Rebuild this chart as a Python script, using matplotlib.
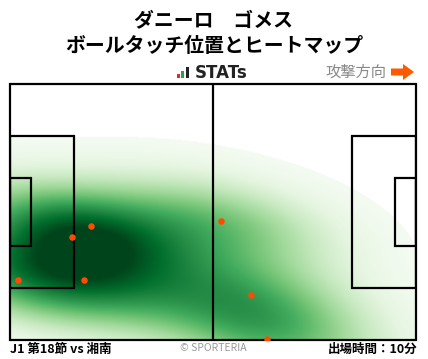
import numpy as np
import matplotlib
matplotlib.use("Agg")
import matplotlib.pyplot as plt
from matplotlib.patches import Rectangle, Polygon

plt.rcParams['font.family'] = ['Noto Sans CJK JP', 'DejaVu Sans']

# ---- data (pitch coords in metres: x 0..105 attack left->right, y 0..68 from top) ----
touch_x = [20.9, 16.0, 2.1, 19.1, 54.6, 62.3, 66.5]
touch_y = [37.7, 40.6, 52.1, 52.1, 36.4, 56.0, 67.7]

title_lines = ["ダニーロ\u3000ゴメス", "ボールタッチ位置とヒートマップ"]
match_label = "J1 第18節 vs 湘南"
minutes_label = "出場時間：10分"
direction_label = "攻撃方向"

L, W = 105.0, 68.0

W_PX, H_PX = 428, 359
fig = plt.figure(figsize=(W_PX / 100, H_PX / 100), dpi=100)
fig.patch.set_facecolor('white')

# pitch axes
px0, px1, py0, py1 = 10, 416, 84, 340
ax = fig.add_axes([px0 / W_PX, 1 - py1 / H_PX, (px1 - px0) / W_PX, (py1 - py0) / H_PX])
ax.set_xlim(0, L)
ax.set_ylim(W, 0)
ax.axis('off')

# ---- KDE heatmap (Scott's rule, full covariance) ----
pts = np.vstack([touch_x, touch_y])
n = pts.shape[1]
cov = np.cov(pts)
factor = n ** (-1.0 / 6.0) * 1.08
bw = cov * factor ** 2
inv = np.linalg.inv(bw)
gx = np.linspace(0, L, 420)
gy = np.linspace(0, W, 272)
GX, GY = np.meshgrid(gx, gy)
dens = np.zeros_like(GX)
for xi, yi in zip(touch_x, touch_y):
    dx = GX - xi
    dy = GY - yi
    q = inv[0, 0] * dx * dx + 2 * inv[0, 1] * dx * dy + inv[1, 1] * dy * dy
    dens += np.exp(-0.5 * q)
dens /= dens.max()
cmap = plt.get_cmap('Greens')
rgba = cmap(np.clip(dens / 0.9, 0, 1))
rgba[dens < 0.018] = (1.0, 1.0, 1.0, 1.0)
ax.imshow(rgba, extent=(0, L, W, 0), origin='upper',
          interpolation='bilinear', aspect='auto', zorder=1)

# ---- pitch lines ----
lc = 'black'
lw = 1.6
ax.add_patch(Rectangle((0, 0), L, W, fill=False, ec=lc, lw=lw, zorder=3, clip_on=False))
ax.plot([L / 2, L / 2], [0, W], color=lc, lw=lw, zorder=3)
pb_w, pb_d = 40.3, 16.5
ga_w, ga_d = 18.3, 5.5
for x0, sgn in [(0, 1), (L, -1)]:
    ax.add_patch(Rectangle((x0 if sgn > 0 else x0 - pb_d, (W - pb_w) / 2), pb_d, pb_w,
                           fill=False, ec=lc, lw=lw, zorder=3))
    ax.add_patch(Rectangle((x0 if sgn > 0 else x0 - ga_d, (W - ga_w) / 2), ga_d, ga_w,
                           fill=False, ec=lc, lw=lw, zorder=3))

# touches
ax.scatter(touch_x, touch_y, s=22, color='#ff4b00', zorder=4, linewidths=0)

# ---- overlay for header/footer texts ----
ov = fig.add_axes([0, 0, 1, 1], facecolor='none')
ov.set_xlim(0, W_PX)
ov.set_ylim(H_PX, 0)
ov.axis('off')

ov.text(214, 20, title_lines[0], ha='center', va='center', fontsize=14.3, fontweight='bold')
ov.text(214, 46, title_lines[1], ha='center', va='center', fontsize=14.3, fontweight='bold')

# STATs logo
ov.add_patch(Rectangle((177, 74), 3, 4, color='#e8262b', lw=0))
ov.add_patch(Rectangle((181, 71), 3, 7, color='#2aa34a', lw=0))
ov.add_patch(Rectangle((186, 67), 3.5, 11, color='#222222', lw=0))
ov.text(195, 73, "STATs", ha='left', va='center', fontsize=12, fontweight='bold',
        family=['DejaVu Sans'], color='#222222')

ov.text(386, 72, direction_label, ha='right', va='center', fontsize=11, color='#888888')
arrow = Polygon([[391, 68.5], [403, 68.5], [403, 64], [414, 72], [403, 80], [403, 75.5], [391, 75.5]],
                closed=True, color='#ff5a00', lw=0)
ov.add_patch(arrow)

ov.text(10, 349, match_label, ha='left', va='center', fontsize=9, fontweight='bold')
ov.text(213, 348, "© SPORTERIA", ha='center', va='center', fontsize=7.5, color='#999999')
ov.text(417, 349, minutes_label, ha='right', va='center', fontsize=9, fontweight='bold')

fig.savefig('out.png', dpi=100, facecolor='white')
